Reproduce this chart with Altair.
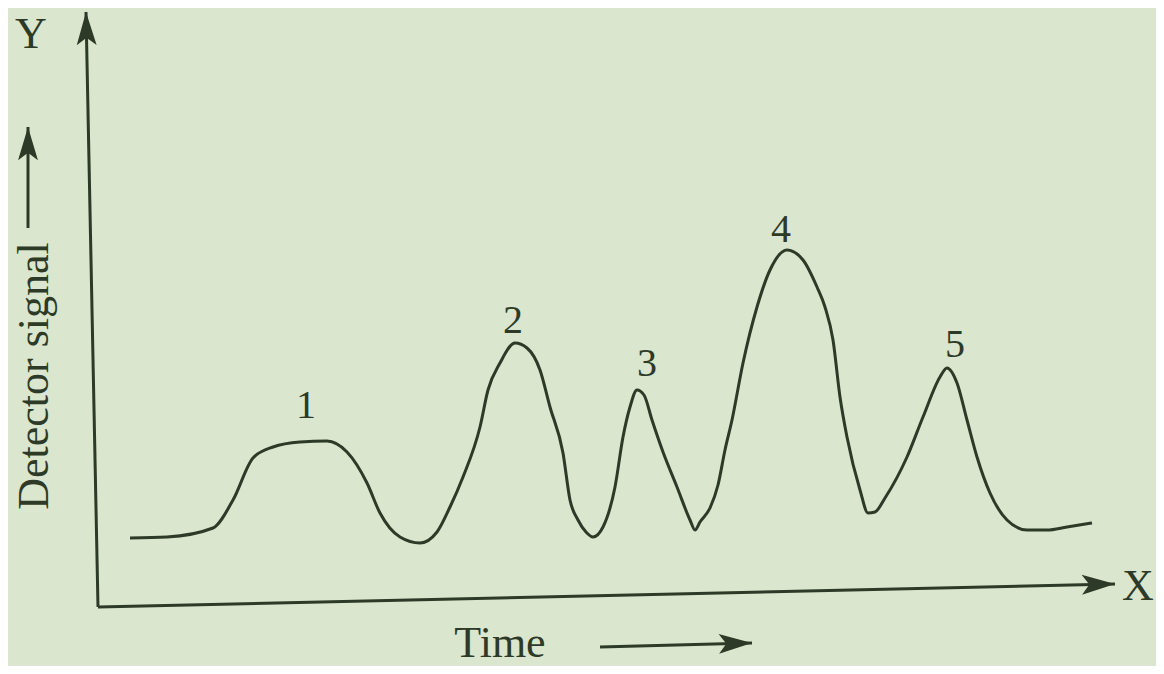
import altair as alt
import numpy as np
import pandas as pd

# Chromatogram trace (time, detector signal in arbitrary units)
time = [33, 70, 116, 136, 156, 176, 203, 230, 250, 270, 283, 303, 323, 340, 353, 366,
        383, 391, 403, 418, 430, 443, 453, 466, 473, 481, 489, 496, 506, 518, 526, 533, 540,
        547, 555, 566, 580, 593, 598, 603, 613, 621, 628, 635, 646, 660, 673, 690, 706, 720,
        728, 736, 743, 750, 763, 771, 778, 788, 810, 826, 843, 850, 860, 870, 880, 893,
        910, 930, 950, 970, 995]
signal = [69, 70, 79, 107, 149, 160, 165, 166, 155, 124, 94, 70, 64, 75, 100, 130,
          180, 217, 244, 264, 259, 237, 200, 154, 107, 87, 75, 70, 80, 120, 170, 200, 217,
          212, 187, 155, 120, 87, 77, 85, 99, 122, 157, 187, 244, 300, 337, 357, 347, 320,
          300, 267, 210, 170, 117, 94, 95, 109, 150, 190, 230, 239, 224, 187, 150, 114,
          87, 77, 77, 80, 84]

# Peak numbers
peak_labels = ["1", "2", "3", "4", "5"]
peak_time = [209, 416, 550, 684, 858]
peak_signal = [189, 274, 231, 365, 250]

# Axis / annotation texts
note_text = ["Y", "X", "Time"]
note_time = [-66, 1041, 403]
note_signal = [559, 7, -50]
ylabel_text = ["Detector signal"]
ylabel_time = [-49]
ylabel_signal = [231]

# Arrows: start -> tip
arrow_name = ["y-axis", "x-axis", "signal", "time"]
arrow_t0 = [1, 1, -69, 503]
arrow_s0 = [0, 0, 379, -40]
arrow_t1 = [-11, 1018, -69, 655]
arrow_s1 = [595, 23, 480, -36]

curve = pd.DataFrame({"time": time, "signal": signal})
peaks = pd.DataFrame({"label": peak_labels, "time": peak_time, "signal": peak_signal})
notes = pd.DataFrame({"label": note_text, "time": note_time, "signal": note_signal})
ylab = pd.DataFrame({"label": ylabel_text, "time": ylabel_time, "signal": ylabel_signal})
arrows = pd.DataFrame({"name": arrow_name, "t0": arrow_t0, "s0": arrow_s0,
                       "t1": arrow_t1, "s1": arrow_s1})
arrows["angle"] = np.mod(np.degrees(np.arctan2(arrows["t1"] - arrows["t0"],
                                               arrows["s1"] - arrows["s0"])), 360)

INK = "#2d3a27"
FONT = "Liberation Serif"
W, H = 1148, 658

xs = alt.Scale(domain=[-89, 1059], nice=False, zero=False)
ys = alt.Scale(domain=[-59, 599], nice=False, zero=False)

line = alt.Chart(curve).mark_line(color=INK, strokeWidth=3, interpolate="monotone").encode(
    x=alt.X("time:Q", scale=xs, axis=None),
    y=alt.Y("signal:Q", scale=ys, axis=None),
)

rules = alt.Chart(arrows).mark_rule(color=INK, strokeWidth=3).encode(
    x=alt.X("t0:Q", scale=xs, axis=None),
    y=alt.Y("s0:Q", scale=ys, axis=None),
    x2="t1:Q",
    y2="s1:Q",
)

heads = alt.Chart(arrows).mark_point(
    shape="M0,0L0.6,2L0,1.55L-0.6,2Z", filled=True, color=INK, opacity=1, size=1100,
    strokeWidth=0,
).encode(
    x=alt.X("t1:Q", scale=xs, axis=None),
    y=alt.Y("s1:Q", scale=ys, axis=None),
    angle=alt.Angle("angle:Q", scale=None),
)

peak_text = alt.Chart(peaks).mark_text(
    font=FONT, fontSize=40, color=INK, align="center", baseline="alphabetic"
).encode(
    x=alt.X("time:Q", scale=xs, axis=None),
    y=alt.Y("signal:Q", scale=ys, axis=None),
    text="label:N",
)

note_marks = alt.Chart(notes).mark_text(
    font=FONT, fontSize=44, color=INK, align="center", baseline="alphabetic"
).encode(
    x=alt.X("time:Q", scale=xs, axis=None),
    y=alt.Y("signal:Q", scale=ys, axis=None),
    text="label:N",
)

ylab_marks = alt.Chart(ylab).mark_text(
    font=FONT, fontSize=44, color=INK, align="center", baseline="alphabetic", angle=270
).encode(
    x=alt.X("time:Q", scale=xs, axis=None),
    y=alt.Y("signal:Q", scale=ys, axis=None),
    text="label:N",
)

chart = alt.layer(line, rules, heads, peak_text, note_marks, ylab_marks).properties(
    width=W, height=H, padding=0, autosize="none", background="#dae6cd"
).configure_view(stroke=None)

chart.save("out.html", embed_options={"renderer": "svg", "actions": False})
